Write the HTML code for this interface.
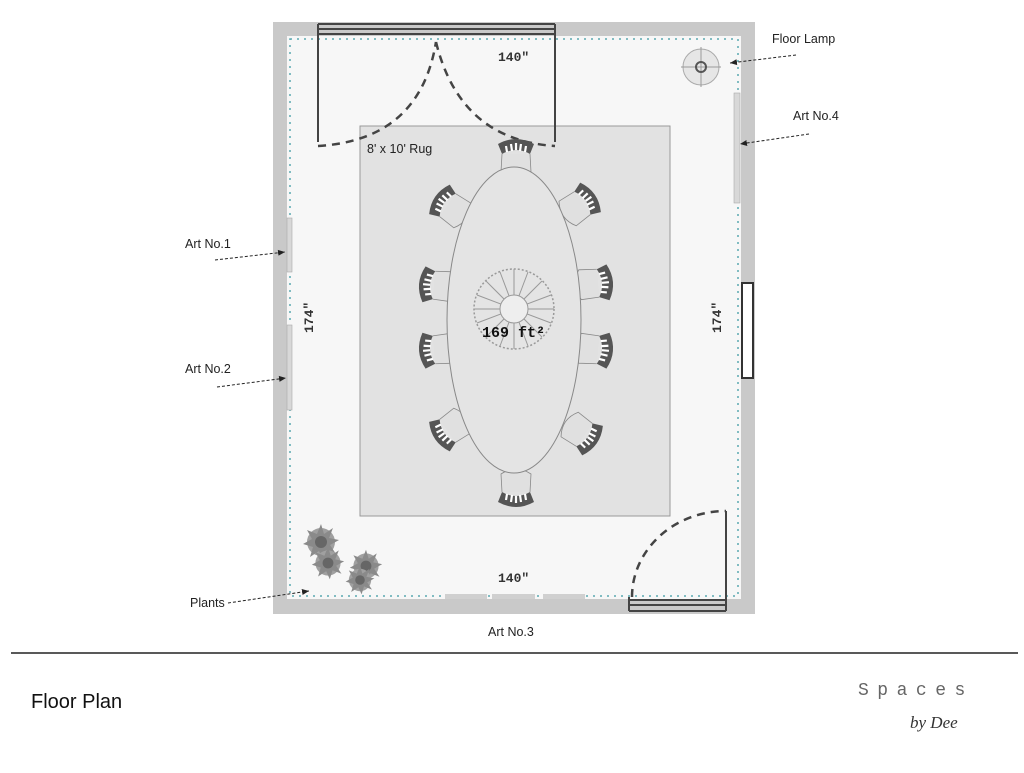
<!DOCTYPE html>
<html><head><style>
body{margin:0;background:#fff;width:1024px;height:768px;overflow:hidden;font-family:"Liberation Sans",sans-serif}
</style></head><body>
<svg width="1024" height="768" viewBox="0 0 1024 768" xmlns="http://www.w3.org/2000/svg">
<defs>
<marker id="ar" markerWidth="8" markerHeight="8" refX="7" refY="4" orient="auto"><path d="M0,1 L7,4 L0,7 Z" fill="#222"/></marker>
<g id="chair">
<path d="M-18,-8 Q0,-18 18,-8 L14,2 Q0,-6 -14,2 Z" fill="#555"/>
<path d="M-10,-6 L-9,0 M-5,-8 L-4,-1 M0,-9 L0,-2 M5,-8 L4,-1 M10,-6 L9,0" stroke="#fff" stroke-width="2.2"/>
<path d="M-14,2 L-15,20 Q0,30 15,20 L14,2" fill="#e0e0e0" stroke="#888" stroke-width="0.8"/>
</g>
<g id="bush">
<circle r="14" fill="#a0a0a0"/>
<path d="M0,-18 L3,-8 L12,-14 L8,-4 L18,-2 L9,3 L15,12 L5,8 L2,18 L-2,9 L-11,15 L-8,5 L-18,2 L-9,-3 L-14,-12 L-4,-8 Z" fill="#8a8a8a"/>
<circle r="6" fill="#666"/>
</g>
</defs>
<rect x="273" y="22" width="482" height="592" fill="#c9c9c9"/>
<rect x="287" y="36" width="454" height="563" fill="#f7f7f7"/>
<rect x="290" y="39" width="448" height="557" fill="none" stroke="#5aa9b0" stroke-width="1.5" stroke-dasharray="2,5"/>
<rect x="287" y="218" width="5" height="54" fill="#d8d8d8" stroke="#aaa" stroke-width="0.6"/>
<rect x="287" y="325" width="5" height="85" fill="#d8d8d8" stroke="#aaa" stroke-width="0.6"/>
<rect x="734" y="93" width="6" height="110" fill="#d8d8d8" stroke="#aaa" stroke-width="0.6"/>
<rect x="445" y="594" width="42" height="5" fill="#d0d0d0"/>
<rect x="492" y="594" width="43" height="5" fill="#d0d0d0"/>
<rect x="543" y="594" width="42" height="5" fill="#d0d0d0"/>
<rect x="742" y="283" width="11" height="95" fill="#fff" stroke="#333" stroke-width="2"/>
<rect x="360" y="126" width="310" height="390" fill="#e2e2e2" stroke="#999" stroke-width="1"/>
<g stroke="#444" stroke-width="2" fill="none">
<line x1="318" y1="24" x2="555" y2="24"/><line x1="318" y1="29" x2="555" y2="29"/><line x1="318" y1="34" x2="555" y2="34"/>
<line x1="318" y1="24" x2="318" y2="142"/><line x1="555" y1="24" x2="555" y2="142"/>
</g>
<g stroke="#444" stroke-width="2.5" fill="none" stroke-dasharray="8,6">
<path d="M318,146 Q420,140 436,42"/><path d="M436,42 Q460,140 555,146"/>
</g>
<g stroke="#444" stroke-width="2" fill="none">
<line x1="629" y1="600" x2="726" y2="600"/><line x1="629" y1="605" x2="726" y2="605"/><line x1="629" y1="611" x2="726" y2="611"/>
<line x1="629" y1="597" x2="629" y2="611"/><line x1="726" y1="511" x2="726" y2="611"/>
</g>
<path d="M632,597 A94,86 0 0 1 726,511" stroke="#444" stroke-width="2.5" fill="none" stroke-dasharray="8,6"/>
<use href="#chair" transform="translate(516,152)"/>
<use href="#chair" transform="translate(516,494) rotate(180)"/>
<use href="#chair" transform="translate(446,204) rotate(-55)"/>
<use href="#chair" transform="translate(432,285) rotate(-85)"/>
<use href="#chair" transform="translate(432,350) rotate(-95)"/>
<use href="#chair" transform="translate(446,432) rotate(-125)"/>
<use href="#chair" transform="translate(584,202) rotate(55)"/>
<use href="#chair" transform="translate(600,283) rotate(85)"/>
<use href="#chair" transform="translate(600,350) rotate(95)"/>
<use href="#chair" transform="translate(586,436) rotate(125)"/>
<ellipse cx="514" cy="320" rx="67" ry="153" fill="#e4e4e4" stroke="#888" stroke-width="1"/>
<circle cx="514" cy="309" r="40" fill="none" stroke="#999" stroke-width="1.5" stroke-dasharray="2,2"/>
<g stroke="#999" stroke-width="1">
<line x1="474" y1="309" x2="554" y2="309"/><line x1="514" y1="269" x2="514" y2="349"/>
<line x1="486" y1="281" x2="542" y2="337"/><line x1="542" y1="281" x2="486" y2="337"/>
<line x1="477" y1="295" x2="551" y2="323"/><line x1="477" y1="323" x2="551" y2="295"/>
<line x1="500" y1="272" x2="528" y2="346"/><line x1="528" y1="272" x2="500" y2="346"/>
</g>
<circle cx="514" cy="309" r="14" fill="#eee" stroke="#999"/>
<circle cx="701" cy="67" r="18" fill="#e6e6e6" stroke="#aaa"/>
<line x1="681" y1="67" x2="721" y2="67" stroke="#999"/><line x1="701" y1="47" x2="701" y2="87" stroke="#999"/>
<circle cx="701" cy="67" r="5" fill="none" stroke="#555" stroke-width="2"/>
<use href="#bush" transform="translate(321,542)"/>
<use href="#bush" transform="translate(328,563) scale(0.9)"/>
<use href="#bush" transform="translate(366,566) scale(0.9)"/>
<use href="#bush" transform="translate(360,580) scale(0.8)"/>
<g font-family="Liberation Mono,monospace" font-weight="bold" font-size="13" fill="#333">
<text x="498" y="61">140"</text>
<text x="498" y="582">140"</text>
<text transform="translate(313,333) rotate(-90)">174"</text>
<text transform="translate(721,333) rotate(-90)">174"</text>
</g>
<text x="482" y="337" font-family="Liberation Mono,monospace" font-weight="bold" font-size="15" fill="#111">169 ft²</text>
<g font-size="12.5" fill="#222">
<text x="367" y="153">8' x 10' Rug</text>
<text x="772" y="43">Floor Lamp</text>
<text x="793" y="120">Art No.4</text>
<text x="185" y="248">Art No.1</text>
<text x="185" y="373">Art No.2</text>
<text x="190" y="607">Plants</text>
<text x="488" y="636">Art No.3</text>
</g>
<g stroke="#222" stroke-width="1" stroke-dasharray="3,2" fill="none" marker-end="url(#ar)">
<line x1="796" y1="55" x2="730" y2="63"/>
<line x1="809" y1="134" x2="740" y2="144"/>
<line x1="215" y1="260" x2="285" y2="252"/>
<line x1="217" y1="387" x2="286" y2="378"/>
<line x1="228" y1="603" x2="309" y2="591"/>
</g>
<line x1="11" y1="653" x2="1018" y2="653" stroke="#222" stroke-width="1.5"/>
<text x="31" y="708" font-size="20" fill="#111">Floor Plan</text>
<text x="858" y="695" font-family="Liberation Mono,monospace" font-size="18" letter-spacing="8.5" fill="#666">Spaces</text>
<text x="910" y="728" font-family="Liberation Serif,serif" font-style="italic" font-size="17" fill="#333">by Dee</text>
</svg>
</body></html>
